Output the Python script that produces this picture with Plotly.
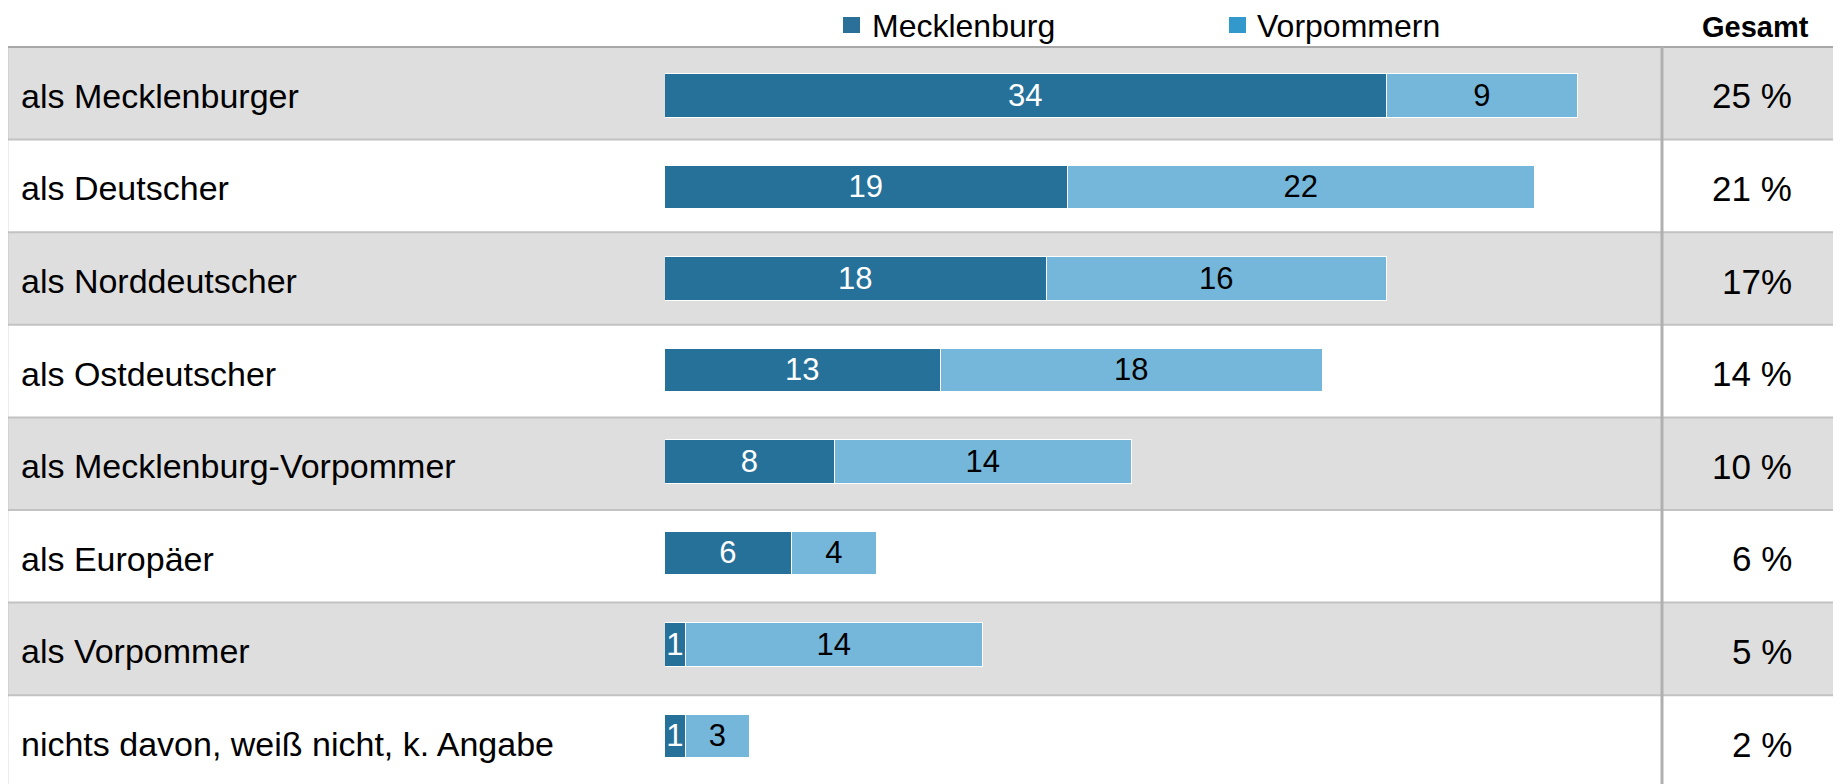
import plotly.graph_objects as go

# ---- data ----
categories = [
    "als Mecklenburger",
    "als Deutscher",
    "als Norddeutscher",
    "als Ostdeutscher",
    "als Mecklenburg-Vorpommer",
    "als Europäer",
    "als Vorpommer",
    "nichts davon, weiß nicht, k. Angabe",
]
mecklenburg = [34, 19, 18, 13, 8, 6, 1, 1]
vorpommern = [9, 22, 16, 18, 14, 4, 14, 3]
gesamt = ["25 %", "21 %", "17%", "14 %", "10 %", "6 %", "5 %", "2 %"]
series_names = ["Mecklenburg", "Vorpommern"]
header_total = "Gesamt"

# ---- styling ----
OFF = 8  # default page body margin
W, H = 1841 - OFF, 784 - OFF
FONT = "Liberation Sans, Arial, sans-serif"
DARK = "#26719a"
LIGHT = "#74b7db"
LEG_DARK = "#2a7099"
LEG_LIGHT = "#3399cc"
ROW_GRAY = "#dedede"

def px(x):
    return (x - OFF) / W

def py(y):
    return 1 - (y - OFF) / H

top_px = 47          # top of the table (page px)
row_h = 92.6         # row height of the table grid
bar_c0 = 96.0        # centre of the first bar (page px)
bar_step = 91.5      # spacing of bars (page px)
bar_left_px = 665
unit_px = 21.23

fig = go.Figure()
fig.add_trace(go.Bar(
    y=categories, x=mecklenburg, orientation="h", name=series_names[0],
    marker=dict(color=DARK, line=dict(color="white", width=1.5)),
    width=0.48, texttemplate="%{x}", textposition="inside",
    insidetextanchor="middle", constraintext="none",
    textfont=dict(color="white", size=31, family=FONT),
    showlegend=False,
))
fig.add_trace(go.Bar(
    y=categories, x=vorpommern, orientation="h", name=series_names[1],
    marker=dict(color=LIGHT, line=dict(color="white", width=1.5)),
    width=0.48, texttemplate="%{x}", textposition="inside",
    insidetextanchor="middle", constraintext="none",
    textfont=dict(color="black", size=31, family=FONT),
    showlegend=False,
))

shapes = []
annotations = []
for i, cat in enumerate(categories):
    y_top = top_px + row_h * i
    y_bot = y_top + row_h
    y_mid = (y_top + y_bot) / 2 + 2.5
    if i % 2 == 0:
        shapes.append(dict(type="rect", xref="paper", yref="paper", layer="below",
                           x0=px(7), x1=1, y0=max(py(y_bot), 0), y1=py(y_top),
                           fillcolor=ROW_GRAY, line=dict(width=0)))
    shapes.append(dict(type="line", xref="paper", yref="paper", layer="above",
                       x0=px(7), x1=1, y0=py(y_top), y1=py(y_top),
                       line=dict(color="#a8a8a8" if i == 0 else "#c2c2c2", width=2)))
    annotations.append(dict(text=cat, xref="paper", yref="paper", x=px(19), y=py(y_mid),
                            xanchor="left", yanchor="middle", showarrow=False,
                            font=dict(size=34, color="black", family=FONT)))
    annotations.append(dict(text=gesamt[i], xref="paper", yref="paper", x=px(1794),
                            y=py(y_mid), xanchor="right", yanchor="middle",
                            showarrow=False,
                            font=dict(size=35, color="black", family=FONT)))

# left border and Gesamt separator
shapes.append(dict(type="line", xref="paper", yref="paper", x0=px(7.5), x1=px(7.5),
                   y0=0, y1=py(top_px), line=dict(color="#b4b4b4", width=1.5)))
shapes.append(dict(type="line", xref="paper", yref="paper", x0=px(1662), x1=px(1662),
                   y0=0, y1=py(top_px), line=dict(color="#b0b0b0", width=3)))

# legend
for (x0, x1, col, tx, name) in [(843, 860, LEG_DARK, 870, series_names[0]),
                                (1229, 1246, LEG_LIGHT, 1255, series_names[1])]:
    shapes.append(dict(type="rect", xref="paper", yref="paper",
                       x0=px(x0), x1=px(x1), y0=py(33), y1=py(17),
                       fillcolor=col, line=dict(width=0)))
    annotations.append(dict(text=name, xref="paper", yref="paper", x=px(tx), y=py(26),
                            xanchor="left", yanchor="middle", showarrow=False,
                            font=dict(size=32, color="black", family=FONT)))

annotations.append(dict(text="<b>" + header_total + "</b>", xref="paper", yref="paper",
                        x=px(1755), y=py(27), xanchor="center", yanchor="middle",
                        showarrow=False, font=dict(size=29, color="black", family=FONT)))

# y axis: bar i centred at bar_c0 + i*bar_step (page px)
v_top = (OFF - bar_c0) / bar_step
v_bot = (784 - bar_c0) / bar_step

fig.update_layout(
    width=W, height=H, autosize=False,
    margin=dict(l=0, r=0, t=0, b=0, pad=0),
    paper_bgcolor="white", plot_bgcolor="rgba(0,0,0,0)",
    barmode="stack", bargap=0,
    uniformtext=dict(minsize=31, mode="show"),
    xaxis=dict(domain=[px(bar_left_px), 1], range=[0, (1841 - bar_left_px) / unit_px],
               visible=False, fixedrange=True),
    yaxis=dict(domain=[0, 1], range=[v_bot, v_top],
               categoryorder="array", categoryarray=categories,
               visible=False, fixedrange=True),
    shapes=shapes,
    annotations=annotations,
    showlegend=False,
    font=dict(family=FONT),
)

fig.write_html("out.html", config={"displayModeBar": False})
